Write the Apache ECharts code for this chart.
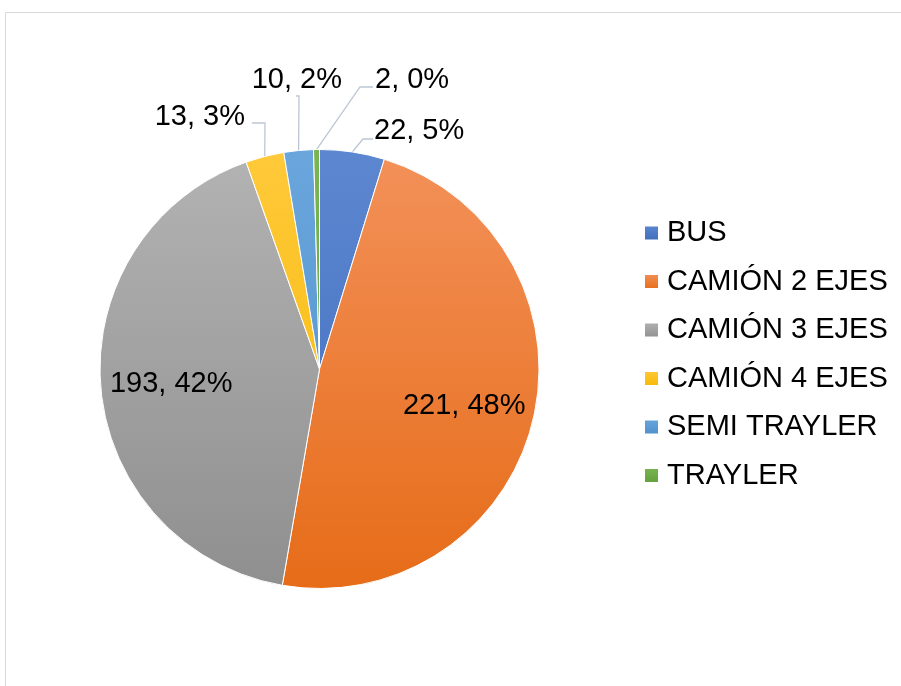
<!DOCTYPE html>
<html>
<head>
<meta charset="utf-8">
<script src="https://cdn.jsdelivr.net/npm/echarts@6/dist/echarts.min.js"></script>
<style>
  html, body { margin: 0; padding: 0; background: #fff; }
  #chart { width: 901px; height: 686px; }
</style>
</head>
<body>
<div id="chart"></div>
<script>
// datos
const categorias = ['BUS', 'CAMIÓN 2 EJES', 'CAMIÓN 3 EJES', 'CAMIÓN 4 EJES', 'SEMI TRAYLER', 'TRAYLER'];
const valores = [22, 221, 193, 13, 10, 2];
// colores degradado (arriba, abajo)
const coloresArriba = ['#5d87d0', '#f3915a', '#b3b3b3', '#ffc93a', '#6aa6dc', '#7ab552'];
const coloresAbajo = ['#3f6bbd', '#e66c18', '#8f8f8f', '#f5b800', '#4d8fcc', '#62a03b'];

const cx = 319.5, cy = 369, radio = 219.5;

// posicion de etiquetas exteriores y quiebre de la linea guia
const etiquetasFuera = {
  0: { x: 374, y: 131, alinear: 'left', codo: [363, 139], fin: [373, 139] },
  3: { x: 245, y: 117, alinear: 'right', codo: [265, 123], fin: [252, 123] },
  4: { x: 342, y: 80, alinear: 'right', codo: [299, 96], fin: [296, 96] },
  5: { x: 375, y: 80, alinear: 'left', codo: [360, 87], fin: [373, 87] }
};

let myChart = echarts.init(document.getElementById('chart'));

let datos = categorias.map((nombre, i) => {
  let fuera = etiquetasFuera[i] !== undefined;
  return {
    name: nombre,
    value: valores[i],
    itemStyle: {
      color: new echarts.graphic.LinearGradient(0, cy - radio, 0, cy + radio, [
        { offset: 0, color: coloresArriba[i] },
        { offset: 1, color: coloresAbajo[i] }
      ], true)
    },
    label: { position: fuera ? 'outside' : 'inside' },
    labelLine: { show: fuera }
  };
});

myChart.setOption({
  animation: false,
  graphic: [
    {
      type: 'rect',
      shape: { x: 5.5, y: 12.5, width: 920, height: 700 },
      style: { fill: 'none', stroke: '#d9d9d9', lineWidth: 1 },
      silent: true
    }
  ],
  legend: {
    orient: 'vertical',
    left: 643,
    top: 217,
    padding: 0,
    itemWidth: 15,
    itemHeight: 15,
    itemGap: 16.5,
    icon: 'rect',
    data: categorias.map((c, i) => ({
      name: c,
      itemStyle: {
        color: new echarts.graphic.LinearGradient(0, 0, 0, 1, [
          { offset: 0, color: coloresArriba[i] },
          { offset: 1, color: coloresAbajo[i] }
        ])
      }
    })),
    textStyle: {
      fontFamily: 'Liberation Sans, Arial, sans-serif',
      fontSize: 29,
      color: '#000',
      lineHeight: 32,
      padding: [0, 0, 0, 3]
    }
  },
  series: [
    {
      type: 'pie',
      center: [cx, cy],
      radius: radio,
      startAngle: 90,
      clockwise: true,
      percentPrecision: 0,
      avoidLabelOverlap: false,
      itemStyle: { borderColor: '#fff', borderWidth: 1 },
      label: {
        formatter: '{c}, {d}%',
        fontFamily: 'Liberation Sans, Arial, sans-serif',
        fontSize: 29,
        color: '#000'
      },
      labelLine: {
        lineStyle: { color: '#bcc6d4', width: 1.3 }
      },
      labelLayout: (params) => {
        let f = etiquetasFuera[params.dataIndex];
        if (f) {
          let inicio = params.labelLinePoints ? params.labelLinePoints[0] : f.codo;
          return {
            x: f.x,
            y: f.y,
            align: f.alinear,
            verticalAlign: 'middle',
            labelLinePoints: [inicio, f.codo, f.fin]
          };
        }
        // etiquetas interiores: mas afuera del centro (aprox 0.66 del radio)
        let r = params.labelRect;
        let mx = r.x + r.width / 2, my = r.y + r.height / 2;
        return {
          x: cx + (mx - cx) * 1.32,
          y: cy + (my - cy) * 1.32 + 2,
          align: 'center',
          verticalAlign: 'middle'
        };
      },
      data: datos
    }
  ]
});

window.addEventListener('resize', () => {
  myChart.resize();
});
</script>
</body>
</html>
